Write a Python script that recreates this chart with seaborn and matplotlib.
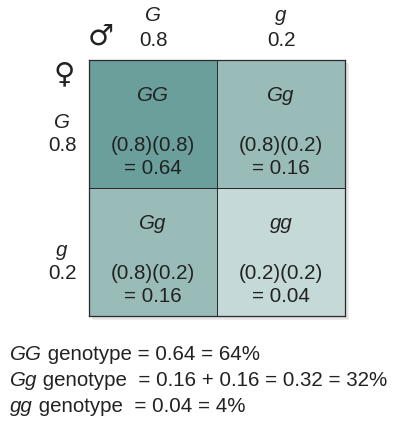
import matplotlib
matplotlib.use("Agg")
import matplotlib.pyplot as plt
from matplotlib.colors import ListedColormap, BoundaryNorm
from matplotlib.patches import Rectangle
import numpy as np
import pandas as pd
import seaborn as sns

# ---- data ----
male_alleles = ["G", "g"]
male_freqs = ["0.8", "0.2"]
female_alleles = ["G", "g"]
female_freqs = ["0.8", "0.2"]
genotypes = [["GG", "Gg"], ["Gg", "gg"]]
products = [["(0.8)(0.8)", "(0.8)(0.2)"], ["(0.8)(0.2)", "(0.2)(0.2)"]]
values = [[0.64, 0.16], [0.16, 0.04]]
value_labels = [["= 0.64", "= 0.16"], ["= 0.16", "= 0.04"]]
summary_geno = ["GG", "Gg", "gg"]
summary_text = [" genotype = 0.64 = 64%",
                " genotype  = 0.16 + 0.16 = 0.32 = 32%",
                " genotype  = 0.04 = 4%"]

sns.set_style("white")
plt.rcParams["font.family"] = ["Liberation Sans", "DejaVu Sans"]

W, H = 400, 433
fig = plt.figure(figsize=(W / 100, H / 100), dpi=100)

def fx(px):
    return px / W

def fy(py):
    return 1 - py / H

# soft shadow behind the grid
for k, c in enumerate(["#ededed", "#e3e3e3"]):
    off = 4 - k
    shadow = Rectangle((fx(89 + off), fy(316 + off)), fx(256), 256 / H,
                       transform=fig.transFigure, facecolor=c, edgecolor="none",
                       zorder=-5 + k)
    fig.add_artist(shadow)

ax = fig.add_axes([fx(89), fy(316), fx(256), 256 / H])
ax.set_zorder(2)

df = pd.DataFrame(values, index=female_alleles, columns=male_alleles)
cmap = ListedColormap(["#c4d9d8", "#99bcb9", "#6b9f9c"])
norm = BoundaryNorm([0.0, 0.1, 0.5, 1.0], ncolors=3)
sns.heatmap(df, ax=ax, cmap=cmap, norm=norm, cbar=False, linewidths=0.5,
            linecolor="#2a2a2a", square=False, xticklabels=False, yticklabels=False)
for s in ax.spines.values():
    s.set_visible(True)
    s.set_color("#2a2a2a")
    s.set_linewidth(0.9)

fs = 14.8
tc = "#222222"
for i in range(2):
    for j in range(2):
        cx = j + 0.5
        ax.text(cx, i + 0.28, genotypes[i][j], ha="center", va="center",
                fontsize=fs, style="italic", color=tc)
        ax.text(cx, i + 0.665, products[i][j], ha="center", va="center",
                fontsize=fs, color=tc)
        ax.text(cx, i + 0.845, value_labels[i][j], ha="center", va="center",
                fontsize=fs, color=tc)

# top labels (male)
for j in range(2):
    ax.text(j + 0.5, -0.345, male_alleles[j], ha="center", va="center",
            fontsize=fs, style="italic", color=tc, clip_on=False)
    ax.text(j + 0.5, -0.15, male_freqs[j], ha="center", va="center",
            fontsize=fs, color=tc, clip_on=False)
# left labels (female)
for i in range(2):
    ax.text(-0.21, i + 0.49, female_alleles[i], ha="center", va="center",
            fontsize=fs, style="italic", color=tc, clip_on=False)
    ax.text(-0.21, i + 0.67, female_freqs[i], ha="center", va="center",
            fontsize=fs, color=tc, clip_on=False)

fig.text(fx(101), fy(37), "\u2642", ha="center", va="center", fontsize=21,
         family="DejaVu Sans", color=tc)
fig.text(fx(64), fy(74), "\u2640", ha="center", va="center", fontsize=21,
         family="DejaVu Sans", color=tc)

ys = [355, 381, 406]
for g, t, y in zip(summary_geno, summary_text, ys):
    a = fig.text(fx(10), fy(y), g, ha="left", va="center", fontsize=fs,
                 style="italic", color=tc)
    ax.annotate(t, xy=(1, 0.5), xycoords=a, ha="left", va="center",
                fontsize=fs, color=tc, annotation_clip=False)

fig.savefig("out.png", dpi=100)
